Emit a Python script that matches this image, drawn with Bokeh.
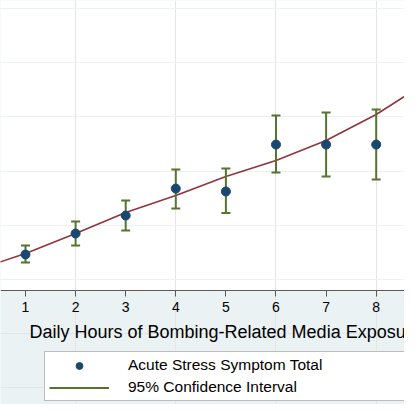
from bokeh.plotting import figure
from bokeh.models import (Range1d, FixedTicker, Grid, Legend, LegendItem, Label,
                          LinearAxis, BoxAnnotation)
from bokeh.embed import file_html
from bokeh.resources import INLINE

# data
hours = [1, 2, 3, 4, 5, 6, 7, 8]
stress_mean = [7.31, 9.24, 10.90, 13.39, 13.12, 17.45, 17.45, 17.45]
ci_low = [6.57, 8.14, 9.52, 11.55, 11.14, 14.87, 14.50, 14.22]
ci_high = [8.14, 10.35, 12.29, 15.15, 15.24, 20.13, 20.40, 20.68]

fit_x = [0.34, 1, 2, 3, 4, 5, 6, 7, 8, 8.72]
fit_y = [6.38, 7.40, 9.24, 11.18, 12.75, 14.50, 15.98, 17.82, 20.22, 22.34]

x_ticks = [1, 2, 3, 4, 5, 6, 7, 8]
y_grid = [5, 10, 15, 20, 25, 30]
y_floor = 3.985  # where the x axis sits

navy = "#1a476f"
maroon = "#90353b"
green = "#55752f"
bluegray = "#eaf2f3"
font = "Liberation Sans"

# the frame fills the whole figure; the part under the axis is the grey graph region
p = figure(width=404, height=404, output_backend="svg", toolbar_location=None,
           x_range=Range1d(0.501, 8.565), y_range=Range1d(-6.53, 30.74),
           x_axis_location=None, y_axis_location=None,
           min_border_left=0, min_border_right=0, min_border_top=0, min_border_bottom=0)

p.border_fill_color = bluegray
p.background_fill_color = bluegray
p.outline_line_color = None
p.add_layout(BoxAnnotation(bottom=y_floor, fill_color="white", fill_alpha=1.0,
                           line_color=None, level="image"))
p.add_layout(Grid(dimension=1, ticker=FixedTicker(ticks=y_grid),
                  grid_line_color=bluegray, grid_line_width=1.2))

# x axis pinned to the bottom of the white plot region
ax = LinearAxis(fixed_location=y_floor, ticker=FixedTicker(ticks=x_ticks))
ax.axis_line_color = "#5a5a5a"
ax.axis_line_width = 1.2
ax.major_tick_line_color = "#5a5a5a"
ax.major_tick_out = 6
ax.major_tick_in = 0
ax.minor_tick_line_color = None
ax.major_label_standoff = 5
ax.major_label_text_font = font
ax.major_label_text_font_size = "14px"
ax.major_label_text_color = "black"
p.add_layout(ax, "below")

# fitted curve
p.line(fit_x, fit_y, line_color=maroon, line_width=1.6)

# confidence intervals
ci = p.segment(x0=hours, y0=ci_low, x1=hours, y1=ci_high, line_color=green, line_width=2)
p.scatter(hours, ci_low, marker="dash", size=9, line_color=green, line_width=2)
p.scatter(hours, ci_high, marker="dash", size=9, line_color=green, line_width=2)

# means
pts = p.scatter(hours, stress_mean, size=9, fill_color=navy, line_color=navy)

# axis title
p.add_layout(Label(x=29, y=73, x_units="screen", y_units="screen",
                   text="Daily Hours of Bombing-Related Media Exposure",
                   text_font=font, text_font_size="18px", text_color="black",
                   text_baseline="middle"))

legend = Legend(items=[LegendItem(label="Acute Stress Symptom Total", renderers=[pts]),
                       LegendItem(label="95% Confidence Interval", renderers=[ci])],
                location=(44, 3))
legend.padding = 4
legend.margin = 0
legend.spacing = 4
legend.glyph_width = 60
legend.glyph_height = 17
legend.label_height = 17
legend.label_width = 278
legend.label_standoff = 19
legend.label_text_font = font
legend.label_text_font_size = "15.5px"
legend.label_text_color = "black"
legend.border_line_color = "#7a7a7a"
legend.background_fill_color = "white"
legend.background_fill_alpha = 1.0
p.add_layout(legend, "center")

open("out.html", "w").write(file_html(p, INLINE))
